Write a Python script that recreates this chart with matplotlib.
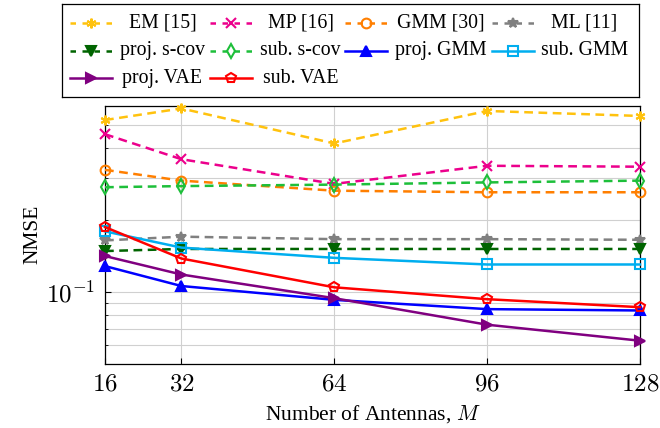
import matplotlib
matplotlib.use("Agg")
import matplotlib.pyplot as plt
import numpy as np
from matplotlib.ticker import LogLocator, NullFormatter, FixedLocator, FuncFormatter

plt.rcParams['font.family'] = ['Liberation Serif', 'DejaVu Serif']
plt.rcParams['mathtext.fontset'] = 'cm'

# antenna counts
M = [16, 32, 64, 96, 128]

# NMSE values
em_15 = [0.524, 0.586, 0.418, 0.572, 0.545]
mp_16 = [0.457, 0.359, 0.283, 0.337, 0.334]
gmm_30 = [0.324, 0.292, 0.265, 0.261, 0.261]
ml_11 = [0.164, 0.170, 0.166, 0.166, 0.165]
proj_scov = [0.148, 0.151, 0.151, 0.151, 0.151]
sub_scov = [0.274, 0.277, 0.281, 0.287, 0.292]
proj_gmm = [0.128, 0.1056, 0.0924, 0.0845, 0.0834]
sub_gmm = [0.179, 0.153, 0.1386, 0.130, 0.130]
proj_vae = [0.141, 0.118, 0.0939, 0.0727, 0.0623]
sub_vae = [0.1865, 0.1377, 0.1043, 0.0930, 0.0861]

W, H = 660, 428
fig = plt.figure(figsize=(W / 100, H / 100), dpi=100)
ax = fig.add_axes([105 / W, 1 - 363.5 / H, 535 / W, 257.5 / H])

dash = (3.5, 2.2)
lw = 1.8
ms = 7
series = [
    (em_15, 'EM [15]', '#FFC20E', (6, 2, 0), True, True),
    (mp_16, 'MP [16]', '#EC008C', 'x', True, True),
    (gmm_30, 'GMM [30]', '#FF7F00', 'o', True, False),
    (ml_11, 'ML [11]', '#808080', '*', True, True),
    (proj_scov, 'proj. s-cov', '#006400', 'v', True, True),
    (sub_scov, 'sub. s-cov', '#1DBF3A', 'd', True, False),
    (proj_gmm, 'proj. GMM', '#0000FF', '^', False, True),
    (sub_gmm, 'sub. GMM', '#00AEEF', 's', False, False),
    (proj_vae, 'proj. VAE', '#800080', '>', False, True),
    (sub_vae, 'sub. VAE', '#FF0000', 'p', False, False),
]


def style(col, mk, dashed, filled):
    kw = dict(color=col, marker=mk, lw=lw, ms=ms, mew=1.5)
    if not filled:
        kw['mfc'] = 'none'
    if dashed:
        kw['ls'] = (0, dash)
    return kw


for vals, lab, col, mk, dashed, filled in series:
    ax.plot(M, vals, label=lab, clip_on=False, zorder=3,
            **style(col, mk, dashed, filled))

ax.set_yscale('log')
ax.set_xlim(16, 128)
ax.set_ylim(0.05, 0.6)
ax.set_xticks(M)
ax.xaxis.set_major_formatter(FuncFormatter(lambda v, p: r'$%d$' % v))
ax.yaxis.set_major_locator(FixedLocator([0.1]))
ax.yaxis.set_major_formatter(FuncFormatter(lambda v, p: r'$10^{-1}$'))
ax.yaxis.set_minor_locator(LogLocator(base=10, subs=np.arange(2, 10)))
ax.yaxis.set_minor_formatter(NullFormatter())
ax.tick_params(axis='both', which='both', direction='in', labelsize=18)
ax.tick_params(axis='both', which='major', length=4, pad=7)
ax.tick_params(axis='y', which='minor', length=2.5)
ax.grid(True, which='major', color='#d0d0d0', lw=0.8)
ax.grid(True, which='minor', axis='y', color='#d0d0d0', lw=0.8)
ax.set_axisbelow(True)
for s in ax.spines.values():
    s.set_linewidth(0.9)

ax.set_xlabel('Number of Antennas, $M$', fontsize=15.5, labelpad=6)
ax.set_ylabel('NMSE', fontsize=15.5, labelpad=2.5)

# legend box laid out like the pgfplots one: 4 columns, row-major, centred text
lx0, lx1, ly0, ly1 = 62, 639, 4.3, 96.7
lax = fig.add_axes([lx0 / W, 1 - ly1 / H, (lx1 - lx0) / W, (ly1 - ly0) / H])
lax.set_xlim(lx0, lx1)
lax.set_ylim(ly1, ly0)
lax.set_xticks([])
lax.set_yticks([])
for s in lax.spines.values():
    s.set_linewidth(0.9)
col_handle = [70, 210, 345, 492]
col_text = [162.5, 300.5, 440.5, 584.5]
row_y = [22.7, 51, 78.3]
hlen = 42
for i, (vals, lab, col, mk, dashed, filled) in enumerate(series):
    r, c = divmod(i, 4)
    xh = col_handle[c]
    kw = style(col, mk, dashed, filled)
    if dashed:
        kw['ls'] = (0, (2.2, 2.6))
    lax.plot([xh, xh + hlen / 2, xh + hlen], [row_y[r]] * 3, markevery=[1],
             clip_on=False, **kw)
    lax.text(col_text[c], row_y[r], lab, ha='center', va='center',
             fontsize=14.3)

fig.savefig('out.png', dpi=100)
